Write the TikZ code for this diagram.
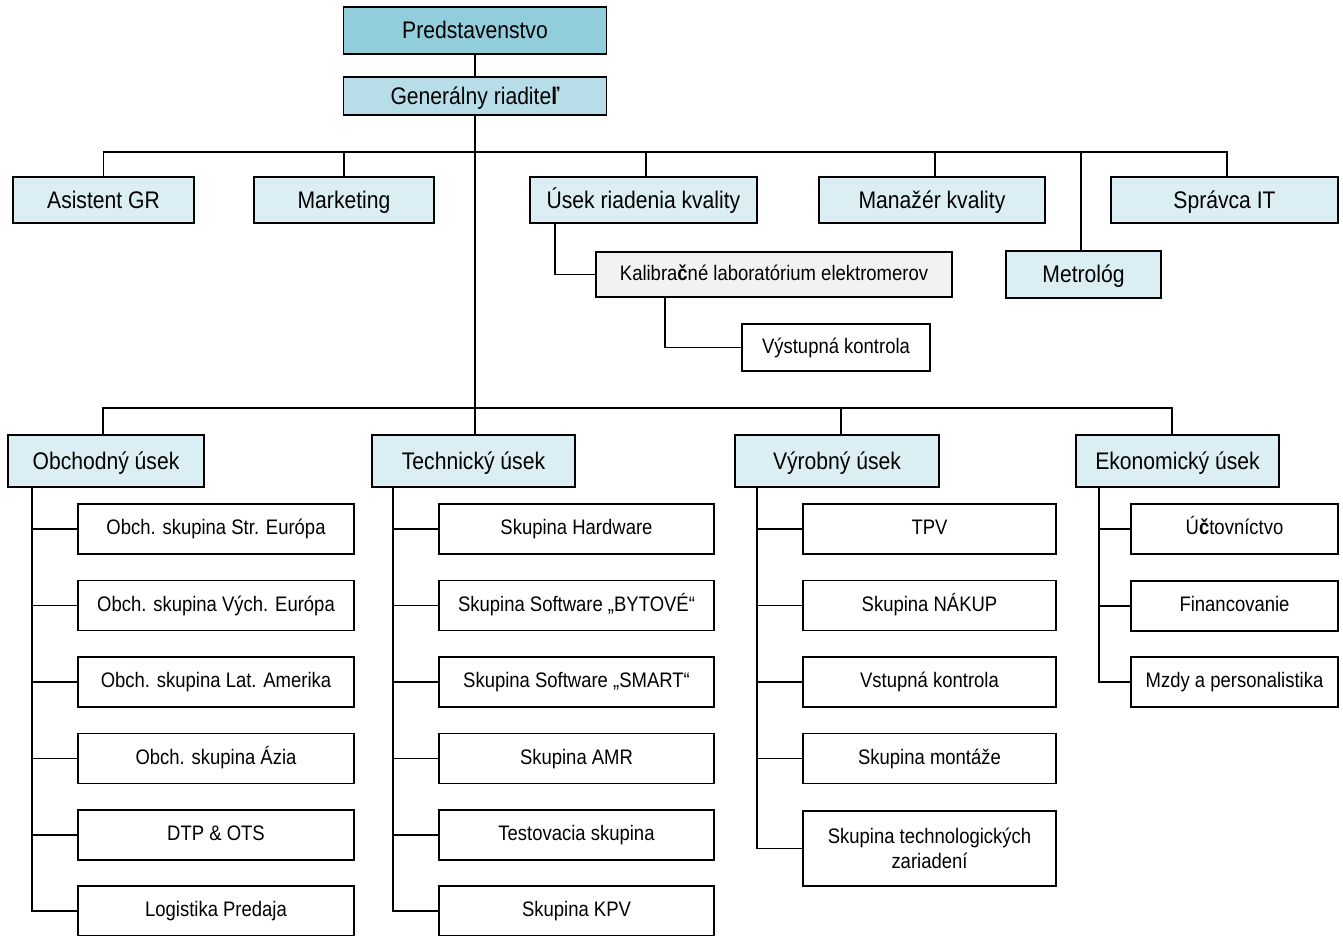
\documentclass[tikz,border=0pt]{standalone}
\usepackage{fontspec}
\setmainfont[FakeStretch=0.88]{Liberation Sans}
\definecolor{predfill}{HTML}{92CDDC}
\definecolor{genfill}{HTML}{B7DEE8}
\definecolor{lvlfill}{HTML}{DAEEF3}
\definecolor{kalfill}{HTML}{F2F2F2}
\tikzset{
  basebox/.style={draw=black, line width=1.9pt, inner sep=0pt, outer sep=0pt, align=center},
  bigbox/.style={basebox, font=\fontsize{24}{28}\selectfont, text height=21.2pt, text depth=4.3pt},
  smallbox/.style={basebox, fill=white, font=\fontsize{21}{25}\selectfont, text height=16.8pt, text depth=5.2pt},
  twoline/.style={basebox, fill=white, font=\fontsize{21}{25}\selectfont},
  predbox/.style={bigbox, fill=predfill},
  genbox/.style={bigbox, fill=genfill},
  lvlbox/.style={bigbox, fill=lvlfill},
  kalbox/.style={smallbox, fill=kalfill},
  link/.style={draw=black, line width=1.9pt},
}
\begin{document}
\begin{tikzpicture}[x=1pt, y=-1pt]
\useasboundingbox (0,0) rectangle (1343,935);

% top
\node[predbox, minimum width=263, minimum height=47] (pred) at (475,30.5) {Predstavenstvo};
\node[genbox, minimum width=263, minimum height=38] (gen) at (475,96) {Generálny riadite\textbf{ľ}};

% first level
\node[lvlbox, minimum width=181, minimum height=46] (asist) at (103.5,200) {Asistent GR};
\node[lvlbox, minimum width=180, minimum height=46] (mark) at (344,200) {Marketing};
\node[lvlbox, minimum width=227, minimum height=46] (usek) at (643.5,200) {Úsek riadenia kvality};
\node[lvlbox, minimum width=226, minimum height=46] (manaz) at (932,200) {Manažér kvality};
\node[lvlbox, minimum width=227, minimum height=46] (sprav) at (1224.5,200) {Správca IT};
\node[lvlbox, minimum width=155, minimum height=47] (metro) at (1083.5,274.5) {Metrológ};
\node[kalbox, minimum width=356, minimum height=45] (kalib) at (774,274.5) {Kalibra\textbf{č}né laboratórium elektromerov};
\node[smallbox, minimum width=188, minimum height=47] (vyst) at (836,347.5) {Výstupná kontrola};

\coordinate (j1) at (475,152);
\coordinate (j2) at (475,408);

\draw[link] (pred.south) -- (gen.north);
\draw[link] (gen.south) -- (j2);
\draw[link] (asist.north) |- (j1) -| ([xshift=2.5pt]sprav.north);
\draw[link] (mark.north) -- (mark.north |- j1);
\draw[link] ([xshift=2.5pt]usek.north) -- ([xshift=2.5pt]usek.north |- j1);
\draw[link] ([xshift=3pt]manaz.north) -- ([xshift=3pt]manaz.north |- j1);
\draw[link] ([xshift=-2.5pt]metro.north) -- ([xshift=-2.5pt]metro.north |- j1);
\draw[link] ([xshift=25pt]usek.south west) |- (kalib.west);
\draw[link] ([xshift=69pt]kalib.south west) |- (vyst.west);

% second level
\node[lvlbox, minimum width=196, minimum height=52] (obch) at (106,461) {Obchodný úsek};
\node[lvlbox, minimum width=203, minimum height=52] (tech) at (473.5,461) {Technický úsek};
\node[lvlbox, minimum width=204, minimum height=52] (vyr) at (837,461) {Výrobný úsek};
\node[lvlbox, minimum width=203, minimum height=52] (ekon) at (1177.5,461) {Ekonomický úsek};

\draw[link] ([xshift=-3pt]obch.north) |- (j2) -| ([xshift=-5.5pt]ekon.north);
\draw[link] ([xshift=4pt]vyr.north) -- ([xshift=4pt]vyr.north |- j2);
\draw[link] ([xshift=1.5pt]tech.north) -- ([xshift=1.5pt]tech.north |- j2);

% Obchodny
\node[smallbox, minimum width=276, minimum height=50] (o1) at (216,529) {Obch. skupina Str. Európa};
\node[smallbox, minimum width=276, minimum height=50] (o2) at (216,605.5) {Obch. skupina Vých. Európa};
\node[smallbox, minimum width=276, minimum height=50] (o3) at (216,682) {Obch. skupina Lat. Amerika};
\node[smallbox, minimum width=276, minimum height=50] (o4) at (216,758.5) {Obch. skupina Ázia};
\node[smallbox, minimum width=276, minimum height=50] (o5) at (216,835) {DTP \& OTS};
\node[smallbox, minimum width=276, minimum height=50] (o6) at (216,911) {Logistika Predaja};
\coordinate (ov) at ([xshift=24pt]obch.south west);
\draw[link] (ov) |- (o6.west);
\foreach \n in {o1,o2,o3,o4,o5} \draw[link] (\n.west) -- (\n.west -| ov);

% Technicky
\node[smallbox, minimum width=275, minimum height=50] (t1) at (576.5,529) {Skupina Hardware};
\node[smallbox, minimum width=275, minimum height=50] (t2) at (576.5,605.5) {Skupina Software „BYTOVÉ“};
\node[smallbox, minimum width=275, minimum height=50] (t3) at (576.5,682) {Skupina Software „SMART“};
\node[smallbox, minimum width=275, minimum height=50] (t4) at (576.5,758.5) {Skupina AMR};
\node[smallbox, minimum width=275, minimum height=50] (t5) at (576.5,835) {Testovacia skupina};
\node[smallbox, minimum width=275, minimum height=50] (t6) at (576.5,911) {Skupina KPV};
\coordinate (tv) at ([xshift=21pt]tech.south west);
\draw[link] (tv) |- (t6.west);
\foreach \n in {t1,t2,t3,t4,t5} \draw[link] (\n.west) -- (\n.west -| tv);

% Vyrobny
\node[smallbox, minimum width=253, minimum height=50] (v1) at (929.5,529) {TPV};
\node[smallbox, minimum width=253, minimum height=50] (v2) at (929.5,605.5) {Skupina NÁKUP};
\node[smallbox, minimum width=253, minimum height=50] (v3) at (929.5,682) {Vstupná kontrola};
\node[smallbox, minimum width=253, minimum height=50] (v4) at (929.5,758.5) {Skupina montáže};
\node[twoline, minimum width=253, minimum height=75] (v5) at (929.5,848.5) {Skupina technologických\\zariadení};
\coordinate (vv) at ([xshift=22pt]vyr.south west);
\draw[link] (vv) |- (v5.west);
\foreach \n in {v1,v2,v3,v4} \draw[link] (\n.west) -- (\n.west -| vv);

% Ekonomicky
\node[smallbox, minimum width=207, minimum height=50] (e1) at (1234.5,529) {Ú\textbf{č}tovníctvo};
\node[smallbox, minimum width=207, minimum height=50] (e2) at (1234.5,606) {Financovanie};
\node[smallbox, minimum width=207, minimum height=50] (e3) at (1234.5,682) {Mzdy a personalistika};
\coordinate (ev) at ([xshift=23pt]ekon.south west);
\draw[link] (ev) |- (e3.west);
\foreach \n in {e1,e2} \draw[link] (\n.west) -- (\n.west -| ev);
\end{tikzpicture}
\end{document}
